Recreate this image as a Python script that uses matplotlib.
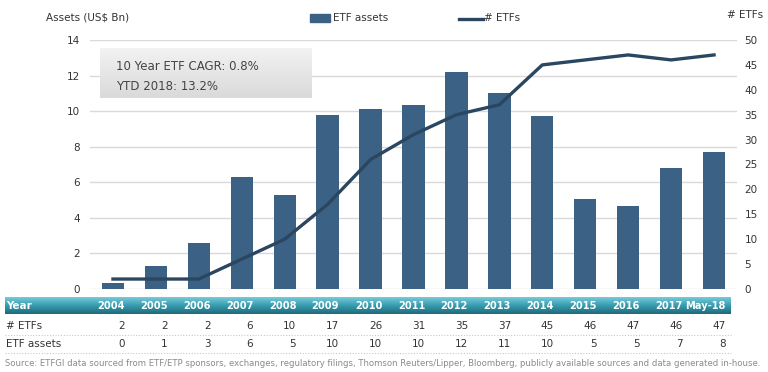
import matplotlib
matplotlib.use("Agg")
import matplotlib.pyplot as plt
import numpy as np

years = ["2004", "2005", "2006", "2007", "2008", "2009", "2010", "2011",
         "2012", "2013", "2014", "2015", "2016", "2017", "May-18"]
assets = [0.35, 1.3, 2.6, 6.3, 5.3, 9.8, 10.1, 10.35, 12.2, 11.0, 9.75, 5.05, 4.65, 6.8, 7.7]
n_etfs = [2, 2, 2, 6, 10, 17, 26, 31, 35, 37, 45, 46, 47, 46, 47]
assets_row = [0, 1, 3, 6, 5, 10, 10, 10, 12, 11, 10, 5, 5, 7, 8]
source = ("Source: ETFGI data sourced from ETF/ETP sponsors, exchanges, regulatory filings, "
          "Thomson Reuters/Lipper, Bloomberg, publicly available sources and data generated in-house.")

bar_col = "#3b6284"
line_col = "#2a4660"
txt_col = "#333333"

plt.rcParams['font.family'] = ['DejaVu Sans']
fig = plt.figure(figsize=(7.68, 3.72), dpi=100)
W, H = 768., 372.

def fx(px): return px / W
def fy(py): return 1 - py / H

ax = fig.add_axes([fx(90), fy(289), fx(737) - fx(90), fy(40) - fy(289)])
ax2 = ax.twinx()
x = np.arange(len(years))
ax.bar(x, assets, width=0.52, color=bar_col, zorder=2, label="ETF assets")
ax2.plot(x, n_etfs, color=line_col, lw=2.4, zorder=3, label="# ETFs")

ax.set_xlim(-0.535, len(years) - 1 + 0.535)
ax.set_ylim(0, 14)
ax2.set_ylim(0, 50)
ax.set_yticks(range(0, 15, 2))
ax2.set_yticks(range(0, 51, 5))
ax.set_xticks([])
ax.grid(axis="y", color="#d9d9d9", lw=1, zorder=0)
ax.set_axisbelow(True)
for a in (ax, ax2):
    for s in a.spines.values():
        s.set_visible(False)
    a.tick_params(length=0, labelsize=7.5, colors=txt_col)
ax.tick_params(axis="y", pad=7)
ax2.tick_params(axis="y", pad=5.5)

fig.text(fx(46), fy(17), "Assets (US$ Bn)", fontsize=7.5, color=txt_col, va="center")
fig.text(fx(763), fy(15), "# ETFs", fontsize=7.5, color=txt_col, va="center", ha="right")

# legend
fig.patches.append(plt.Rectangle((fx(310), fy(22)), fx(20), fy(14) - fy(22),
                                 transform=fig.transFigure, color=bar_col))
fig.text(fx(333), fy(18), "ETF assets", fontsize=7.5, color=txt_col, va="center")
fig.lines.append(plt.Line2D([fx(459), fx(483)], [fy(19), fy(19)], transform=fig.transFigure,
                            color=line_col, lw=2.4))
fig.text(fx(484), fy(18), "# ETFs", fontsize=7.5, color=txt_col, va="center")

# annotation box
grad = np.linspace(0, 1, 50).reshape(-1, 1)
gax = fig.add_axes([fx(100), fy(98), fx(312) - fx(100), fy(48) - fy(98)])
gax.imshow(grad, aspect="auto", cmap=matplotlib.colors.LinearSegmentedColormap.from_list(
    "g", ["#f2f2f2", "#dadada"]), extent=[0, 1, 0, 1], origin="upper")
gax.axis("off")
fig.text(fx(116), fy(66), "10 Year ETF CAGR: 0.8%", fontsize=8.5, color="#444444", va="center")
fig.text(fx(116), fy(86), "YTD 2018: 13.2%", fontsize=8.5, color="#444444", va="center")

# table header band
hax = fig.add_axes([fx(5), fy(314), fx(731) - fx(5), fy(297) - fy(314)])
hax.imshow(grad, aspect="auto", cmap=matplotlib.colors.LinearSegmentedColormap.from_list(
    "h", ["#7ed0de", "#3a9fb2", "#1e6a7b"]), extent=[0, 1, 0, 1], origin="upper")
hax.axis("off")

tr = ax.transData
def col_x(i):
    disp = tr.transform((i + 0.27, 0))
    return fig.transFigure.inverted().transform(disp)[0]

fig.text(fx(6), fy(306), "Year", fontsize=7.5, color="white", weight="bold", va="center")
fig.text(fx(6), fy(326), "# ETFs", fontsize=7.5, color=txt_col, va="center")
fig.text(fx(6), fy(344), "ETF assets", fontsize=7.5, color=txt_col, va="center")
for i, yr in enumerate(years):
    fig.text(col_x(i), fy(306), yr, fontsize=7.1, color="white", weight="bold",
             va="center", ha="right")
    fig.text(col_x(i), fy(326), str(n_etfs[i]), fontsize=7.5, color=txt_col,
             va="center", ha="right")
    fig.text(col_x(i), fy(344), str(assets_row[i]), fontsize=7.5, color=txt_col,
             va="center", ha="right")
for py in (335, 353):
    fig.lines.append(plt.Line2D([fx(5), fx(731)], [fy(py), fy(py)], transform=fig.transFigure,
                                color="#c8c8c8", lw=0.8, ls=(0, (1, 1.5))))

src = fig.text(fx(5), fy(364), source, fontsize=6.3, color="#8a8a8a", va="center")
# shrink the source line so it fits in the width like the original
r = fig.canvas.get_renderer()
w = src.get_window_extent(r).width
src.set_fontsize(6.3 * 756 / w)

fig.savefig("out.png", dpi=100)
